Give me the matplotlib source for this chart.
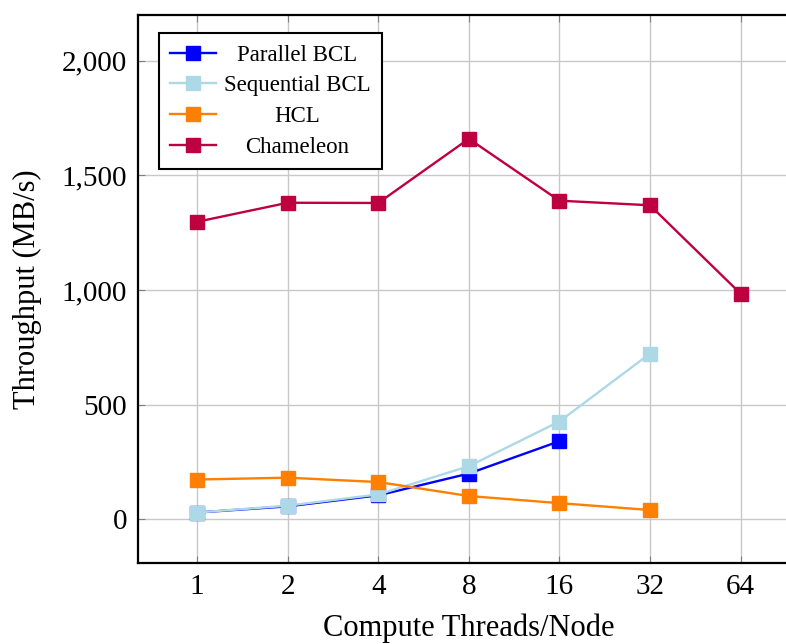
import numpy as np
import matplotlib
matplotlib.use("Agg")
import matplotlib.pyplot as plt
from matplotlib.ticker import FuncFormatter, FixedLocator, NullLocator

plt.rcParams['font.family'] = ['Liberation Serif', 'DejaVu Serif']

threads = [1, 2, 4, 8, 16, 32, 64]
tick_labels = ['1', '2', '4', '8', '16', '32', '64']

parallel_bcl = [30, 57, 105, 200, 341]
sequential_bcl = [30, 60, 109, 232, 427, 723]
hcl = [174, 182, 163, 102, 71, 41]
chameleon = [1298, 1381, 1380, 1660, 1390, 1370, 985]

series = [
    ("Parallel BCL", parallel_bcl, "#0000ff"),
    ("Sequential BCL", sequential_bcl, "#add8e6"),
    ("HCL", hcl, "#ff7f00"),
    ("Chameleon", chameleon, "#bf0040"),
]

fig = plt.figure(figsize=(7.86, 6.44), dpi=100)
ax = fig.add_axes([0.176, 0.1258, 0.841, 0.851])

for name, vals, col in series:
    ax.plot(threads[:len(vals)], vals, color=col, lw=1.7, marker='s',
            markersize=9.5, markeredgecolor=col, label=name, zorder=3)

ax.set_xscale('log', base=2)
ax.set_xlim(2 ** -0.65, 2 ** 6.65)
ax.set_ylim(-190, 2200)
ax.xaxis.set_major_locator(FixedLocator(threads))
ax.xaxis.set_minor_locator(NullLocator())
ax.set_xticks(threads)
ax.set_xticklabels(tick_labels)
ax.set_yticks([0, 500, 1000, 1500, 2000])
ax.yaxis.set_major_formatter(FuncFormatter(lambda v, p: f"{int(v):,}"))

ax.grid(True, color='#c8c8c8', lw=1.0, zorder=0)
ax.tick_params(axis='both', which='major', direction='in', length=5,
               color='#808080', labelsize=21, top=True, right=True, pad=8)
for s in ax.spines.values():
    s.set_linewidth(1.6)

ax.set_xlabel("Compute Threads/Node", fontsize=22, labelpad=10)
ax.set_ylabel("Throughput (MB/s)", fontsize=22, labelpad=14)

leg = ax.legend(loc='upper left', bbox_to_anchor=(0.031, 0.967), fontsize=16.5,
                fancybox=False, framealpha=1, edgecolor='black',
                handlelength=2.0, borderpad=0.5, labelspacing=0.42,
                handletextpad=0.35, borderaxespad=0)
leg.get_frame().set_linewidth(1.5)

# centre the legend labels like pgfplots does
renderer = fig.canvas.get_renderer()
widths = [t.get_window_extent(renderer).width for t in leg.get_texts()]
wmax = max(widths)
for t, w in zip(leg.get_texts(), widths):
    t.set_position(((wmax - w) / 2, 0))

fig.savefig("out.png", dpi=100)
